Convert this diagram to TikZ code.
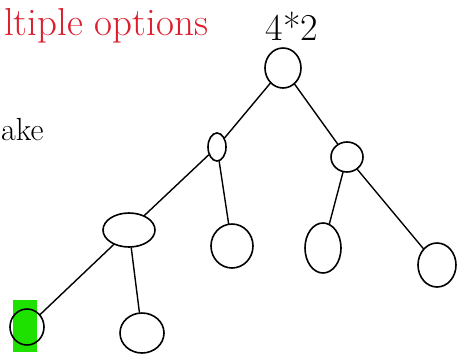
\documentclass[tikz,border=0pt]{standalone}
\usepackage{amsmath}
\usepackage{amssymb}
\usepackage{tikz}
\usetikzlibrary{shapes.geometric}
\definecolor{penred}{RGB}{220,30,45}
\definecolor{markgreen}{RGB}{30,225,0}
\tikzset{
        choice/.style={draw=black, ellipse, line width=1.6pt, inner sep=0pt},
        branch/.style={black, line width=1.4pt, line cap=round}
}

\begin{document}
\begin{tikzpicture}[x=1pt,y=-1pt]
        \useasboundingbox (0,0) rectangle (457,354);
        \fill[markgreen] (13,300) rectangle (37,352);
        \node[choice, minimum width=36pt, minimum height=40pt] (root) at (283,68) {};
        \node[choice, minimum width=18pt, minimum height=28pt] (l) at (217,147) {};
        \node[choice, minimum width=32pt, minimum height=30pt] (r) at (347,157) {};
        \node[choice, minimum width=52pt, minimum height=34pt] (ll) at (129,230) {};
        \node[choice, minimum width=42pt, minimum height=44pt] (lr) at (232,246) {};
        \node[choice, minimum width=36pt, minimum height=50pt] (rl) at (323,248) {};
        \node[choice, minimum width=38pt, minimum height=44pt] (rr) at (437,265) {};
        \node[choice, minimum width=34pt, minimum height=36pt] (lll) at (27,327) {};
        \node[choice, minimum width=44pt, minimum height=40pt] (llr) at (142,333) {};
        \draw[branch] (root) -- (l);
        \draw[branch] (root) -- (r);
        \draw[branch] (l) -- (ll);
        \draw[branch] (l) -- (lr);
        \draw[branch] (r) -- (rl);
        \draw[branch] (r) -- (rr);
        \draw[branch] (ll) -- (lll);
        \draw[branch] (ll) -- (llr);
        \node[penred, anchor=base west, inner sep=0pt, font=\fontsize{39}{39}\selectfont] (title) at (4,35) {ltiple options};
        \node[black, anchor=base, inner sep=0pt, font=\fontsize{38}{38}\selectfont] (count) at (292,40) {4*2};
        \node[black, anchor=base west, inner sep=0pt, font=\fontsize{32}{32}\selectfont] (take) at (1,140) {ake};
\end{tikzpicture}
\end{document}
